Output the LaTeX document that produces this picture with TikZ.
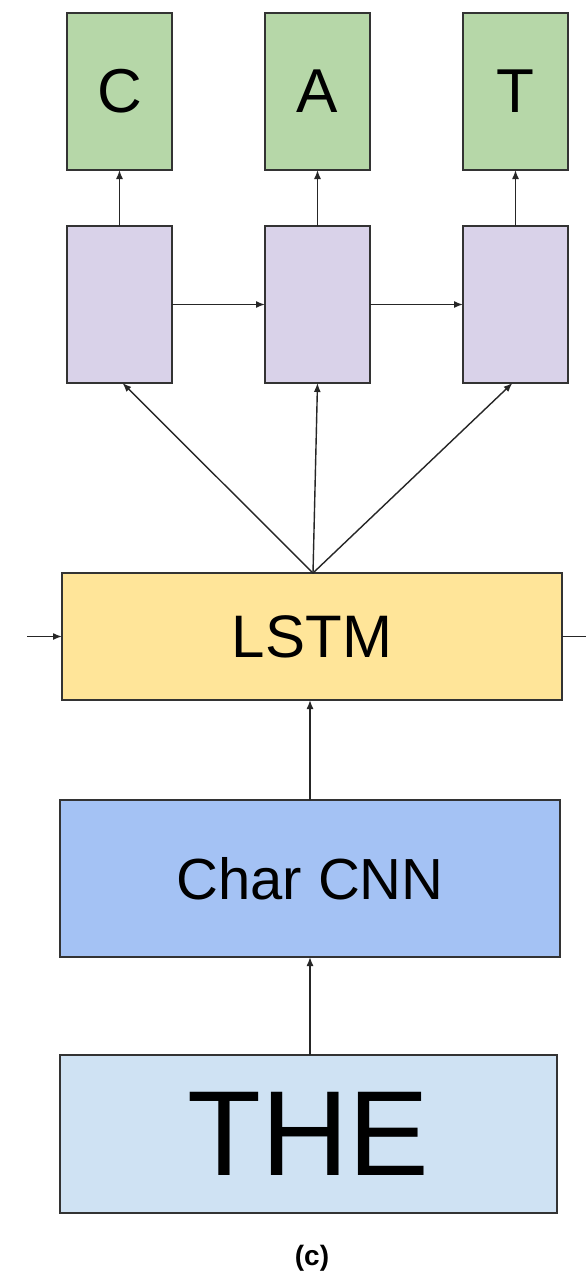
\documentclass[tikz,border=0pt]{standalone}
\usepackage{fontspec}
\setmainfont{Liberation Sans}
\usetikzlibrary{arrows.meta,calc}
\definecolor{outgreen}{HTML}{B6D7A8}
\definecolor{hidpurple}{HTML}{D9D2E9}
\definecolor{lstmyellow}{HTML}{FFE599}
\definecolor{cnnblue}{HTML}{A4C2F4}
\definecolor{wordblue}{HTML}{CFE2F3}
\definecolor{edgegray}{HTML}{333333}
\tikzset{
  box/.style={draw=edgegray, line width=1.6pt, inner sep=0pt, outer sep=0pt},
  tallbox/.style={box, minimum width=105pt, minimum height=157pt},
  outbox/.style={tallbox, fill=outgreen, font=\fontsize{62}{62}\selectfont},
  hidbox/.style={tallbox, fill=hidpurple},
  widebox/.style={box, minimum width=500pt},
  conn/.style={line width=1.4pt, draw=black!85, -{Latex[length=9pt,width=7pt]}},
}
\begin{document}
\begin{tikzpicture}[x=1pt,y=-1pt]
  \clip (0,0) rectangle (586,1286);
  \fill[white] (0,0) rectangle (586,1286);

  % output characters
  \node[outbox] (oc) at (119.5,91.5) {C};
  \node[outbox] (oa) at (317.5,91.5) {A};
  \node[outbox] (ot) at (515.5,91.5) {T};

  % decoder states
  \node[hidbox] (h1) at (119.5,304.5) {};
  \node[hidbox] (h2) at (317.5,304.5) {};
  \node[hidbox] (h3) at (515.5,304.5) {};

  % word-level LSTM
  \node[widebox, minimum height=127pt, fill=lstmyellow,
        font=\fontsize{60}{60}\selectfont] (lstm) at (312,636.5) {LSTM};

  % character CNN
  \node[widebox, minimum height=157pt, fill=cnnblue,
        font=\fontsize{58}{58}\selectfont] (cnn) at (310,878.5) {Char CNN};

  % input word
  \node[widebox, minimum width=497pt, minimum height=158pt, fill=wordblue,
        font=\fontsize{121}{121}\selectfont] (word) at (308.5,1134) {THE};

  % caption
  \node[font=\bfseries\fontsize{28}{28}\selectfont] (cap) at (312,1258) {(c)};

  % connectors
  \draw[conn] (h1.north) -- (oc.south);
  \draw[conn] (h2.north) -- (oa.south);
  \draw[conn] (h3.north) -- (ot.south);
  \draw[conn] (h1.east) -- (h2.west);
  \draw[conn] (h2.east) -- (h3.west);

  \coordinate (fan) at ($(lstm.north)+(1,0)$);
  \draw[conn] (fan) -- ($(h1.south)+(3,0)$);
  \draw[conn] (fan) -- (h2.south);
  \draw[conn] (fan) -- ($(h3.south)+(-3,0)$);

  \draw[conn] (word.north -| cnn.south) -- (cnn.south);
  \draw[conn] (cnn.north) -- (cnn.north |- lstm.south);

  \coordinate (inprev) at (27,636.5);
  \coordinate (outnext) at (596,636.5);
  \draw[conn] (inprev) -- (lstm.west);
  \draw[conn] (lstm.east) -- (outnext);
\end{tikzpicture}
\end{document}
